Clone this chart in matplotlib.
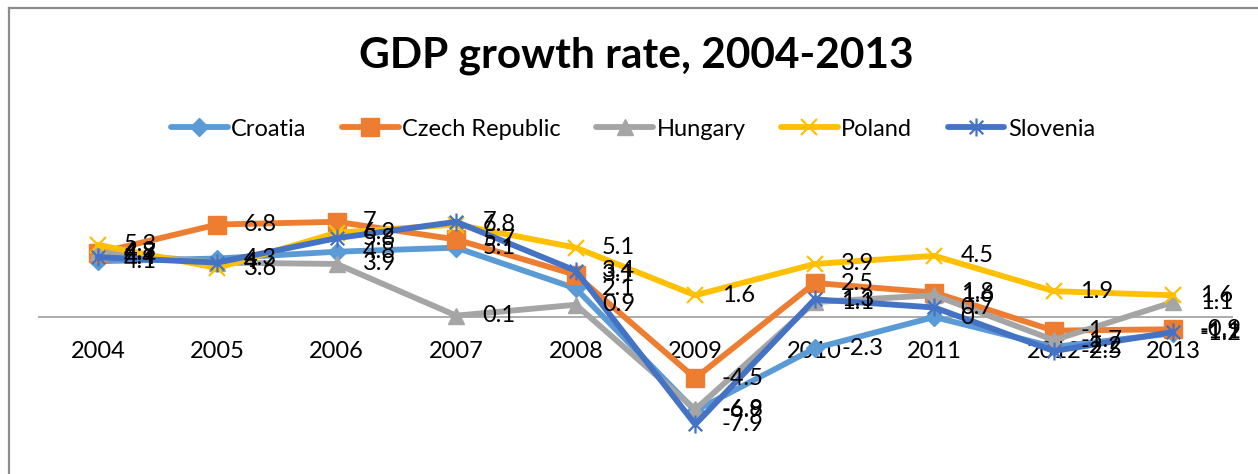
import matplotlib
matplotlib.use("Agg")
import matplotlib.pyplot as plt
from matplotlib.path import Path
from matplotlib.lines import Line2D

years = ["2004", "2005", "2006", "2007", "2008", "2009", "2010", "2011", "2012", "2013"]
croatia = [4.1, 4.3, 4.8, 5.1, 2.1, -6.9, -2.3, 0, -2.2, -1.2]
czech = [4.7, 6.8, 7, 5.7, 3.1, -4.5, 2.5, 1.8, -1, -0.9]
hungary = [4.8, 4.0, 3.9, 0.1, 0.9, -6.8, 1.1, 1.6, -1.7, 1.1]
poland = [5.3, 3.6, 6.2, 6.8, 5.1, 1.6, 3.9, 4.5, 1.9, 1.6]
slovenia = [4.4, 4.0, 5.8, 7, 3.4, -7.9, 1.3, 0.7, -2.5, -1.1]

series_names = ["Croatia", "Czech Republic", "Hungary", "Poland", "Slovenia"]
series_vals = [croatia, czech, hungary, poland, slovenia]
colors = ["#5B9BD5", "#ED7D31", "#A5A5A5", "#FFC000", "#4472C4"]

star = Path([(0, -1), (0, 1), (-0.75, -0.75), (0.75, 0.75), (-0.75, 0.75), (0.75, -0.75)],
            [Path.MOVETO, Path.LINETO, Path.MOVETO, Path.LINETO, Path.MOVETO, Path.LINETO])
markers = ["D", "s", "^", "x", star]
msizes = [9, 12.5, 12, 12, 13]

FONT = "Lato"
FS = 17
W, H = 1258, 474
fig = plt.figure(figsize=(W / 100, H / 100), dpi=100)
fig.patch.set_facecolor("white")

def fx(px):
    return px / W

def fy(py):
    return 1 - py / H

ax = fig.add_axes([fx(38), fy(453), fx(1233) - fx(38), fy(181) - fy(453)])
ax.set_xlim(-0.5, 9.5)
ax.set_ylim(-10, 10)
ax.set_facecolor("none")
for s in ax.spines.values():
    s.set_visible(False)
ax.set_yticks([])
ax.axhline(0, color="#A6A6A6", lw=1.3, zorder=1)

x = list(range(len(years)))
handles = []
for name, vals, c, m, ms in zip(series_names, series_vals, colors, markers, msizes):
    unfilled = m == "x" or isinstance(m, Path)
    ln, = ax.plot(x, vals, color=c, lw=4.2, marker=m, markersize=ms,
                  markerfacecolor=c, markeredgecolor=c,
                  markeredgewidth=1.6 if unfilled else 1.0,
                  solid_joinstyle="round", solid_capstyle="round",
                  zorder=3, label=name, clip_on=False)
    handles.append(ln)

for vals in series_vals:
    for xi, v in zip(x, vals):
        lab = f"{v:g}"
        ax.annotate(lab, (xi, v), xytext=(19, 0), textcoords="offset points",
                    ha="left", va="center", fontsize=FS, family=FONT,
                    color="black", zorder=5, annotation_clip=False)

ax.set_xticks([])
for xi, yr in zip(x, years):
    ax.annotate(yr, (xi, 0), xytext=(0, -25), textcoords="offset points",
                ha="center", va="center", fontsize=FS, family=FONT,
                color="black", zorder=1.5, annotation_clip=False)

fig.text(fx(636), fy(56), "GDP growth rate, 2004-2013", ha="center", va="center",
         fontsize=30.5, fontweight="bold", family=FONT)

leg = fig.legend(handles=handles, labels=series_names, loc="center",
                 bbox_to_anchor=(fx(633), fy(129)), ncol=5, frameon=False,
                 prop={"family": FONT, "size": FS}, handlelength=2.4,
                 handletextpad=0.15, columnspacing=1.5)

# chart frame (left and top edges)
fig.add_artist(Line2D([fx(9), fx(9)], [fy(8), fy(H + 5)], color="#8C8C8C", lw=1.6))
fig.add_artist(Line2D([fx(9), fx(W + 5)], [fy(8), fy(8)], color="#8C8C8C", lw=1.6))

# cut-off caption above the chart
fig.text(fx(10), fy(-12), "Figure 1: GDP growth rate, 2004-2013", ha="left",
         va="baseline", fontsize=22.5, fontweight="bold", family="Liberation Serif")

fig.savefig("out.png", dpi=100)
